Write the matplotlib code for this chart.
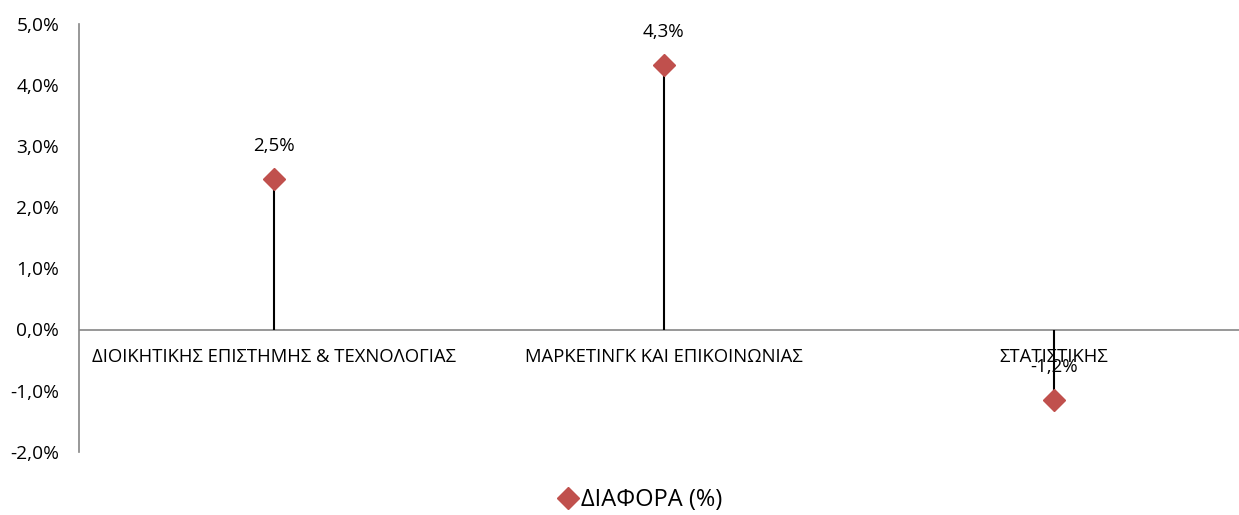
import matplotlib
matplotlib.use("Agg")
import matplotlib.pyplot as plt
from matplotlib.ticker import FuncFormatter

categories = [
    "ΔΙΟΙΚΗΤΙΚΗΣ ΕΠΙΣΤΗΜΗΣ & ΤΕΧΝΟΛΟΓΙΑΣ",
    "ΜΑΡΚΕΤΙΝΓΚ ΚΑΙ ΕΠΙΚΟΙΝΩΝΙΑΣ",
    "ΣΤΑΤΙΣΤΙΚΗΣ",
]
diff_values = [0.0247, 0.0433, -0.0116]
value_labels = ["2,5%", "4,3%", "-1,2%"]
series_name = "ΔΙΑΦΟΡΑ (%)"
y_ticks = [-0.02, -0.01, 0.0, 0.01, 0.02, 0.03, 0.04, 0.05]

RED = "#C0504D"
GRAY = "#868686"

plt.rcParams["font.family"] = ["Open Sans", "DejaVu Sans"]

W, H = 1239, 515
fig = plt.figure(figsize=(W / 100, H / 100), dpi=100)
# plot area in pixels: left 78.7, right ~1248.7, top 24, bottom 451.7
left, right, top, bottom = 78.7, 1248.7, 24, 451.7
ax = fig.add_axes([left / W, 1 - bottom / H, (right - left) / W, (bottom - top) / H])

x = list(range(len(categories)))
ax.set_xlim(-0.5, len(categories) - 0.5)
ax.set_ylim(-0.02, 0.05)

# drop lines from zero to each point
ax.vlines(x, 0, diff_values, color="black", linewidth=1.5, zorder=2)
ax.plot(x, diff_values, linestyle="none", marker="D", markersize=11,
        color=RED, markeredgecolor=RED, zorder=3, label=series_name)

# zero line
ax.axhline(0, color=GRAY, linewidth=1.2, zorder=1)

for xi, v, lab in zip(x, diff_values, value_labels):
    ax.annotate(lab, (xi, v), xytext=(0, 33), textcoords="offset pixels",
                ha="center", va="center", fontsize=13.5, color="black", zorder=4)

for xi, cat in zip(x, categories):
    ax.text(xi, -0.0045, cat, ha="center", va="center", fontsize=13.3,
            color="black", zorder=1)

ax.set_yticks(y_ticks)
ax.yaxis.set_major_formatter(FuncFormatter(lambda v, _: f"{v * 100:.1f}%".replace(".", ",")))
ax.tick_params(axis="y", length=0, pad=14, labelsize=13.8)
ax.set_xticks([])

for side in ["top", "right", "bottom"]:
    ax.spines[side].set_visible(False)
ax.spines["left"].set_color(GRAY)
ax.spines["left"].set_linewidth(1.2)

fig.legend(loc="center", bbox_to_anchor=(0.516, 0.029), frameon=False,
           fontsize=17, handletextpad=0.05, markerscale=1.0, handlelength=1.0)

fig.savefig("out.png", dpi=100, facecolor="white")
